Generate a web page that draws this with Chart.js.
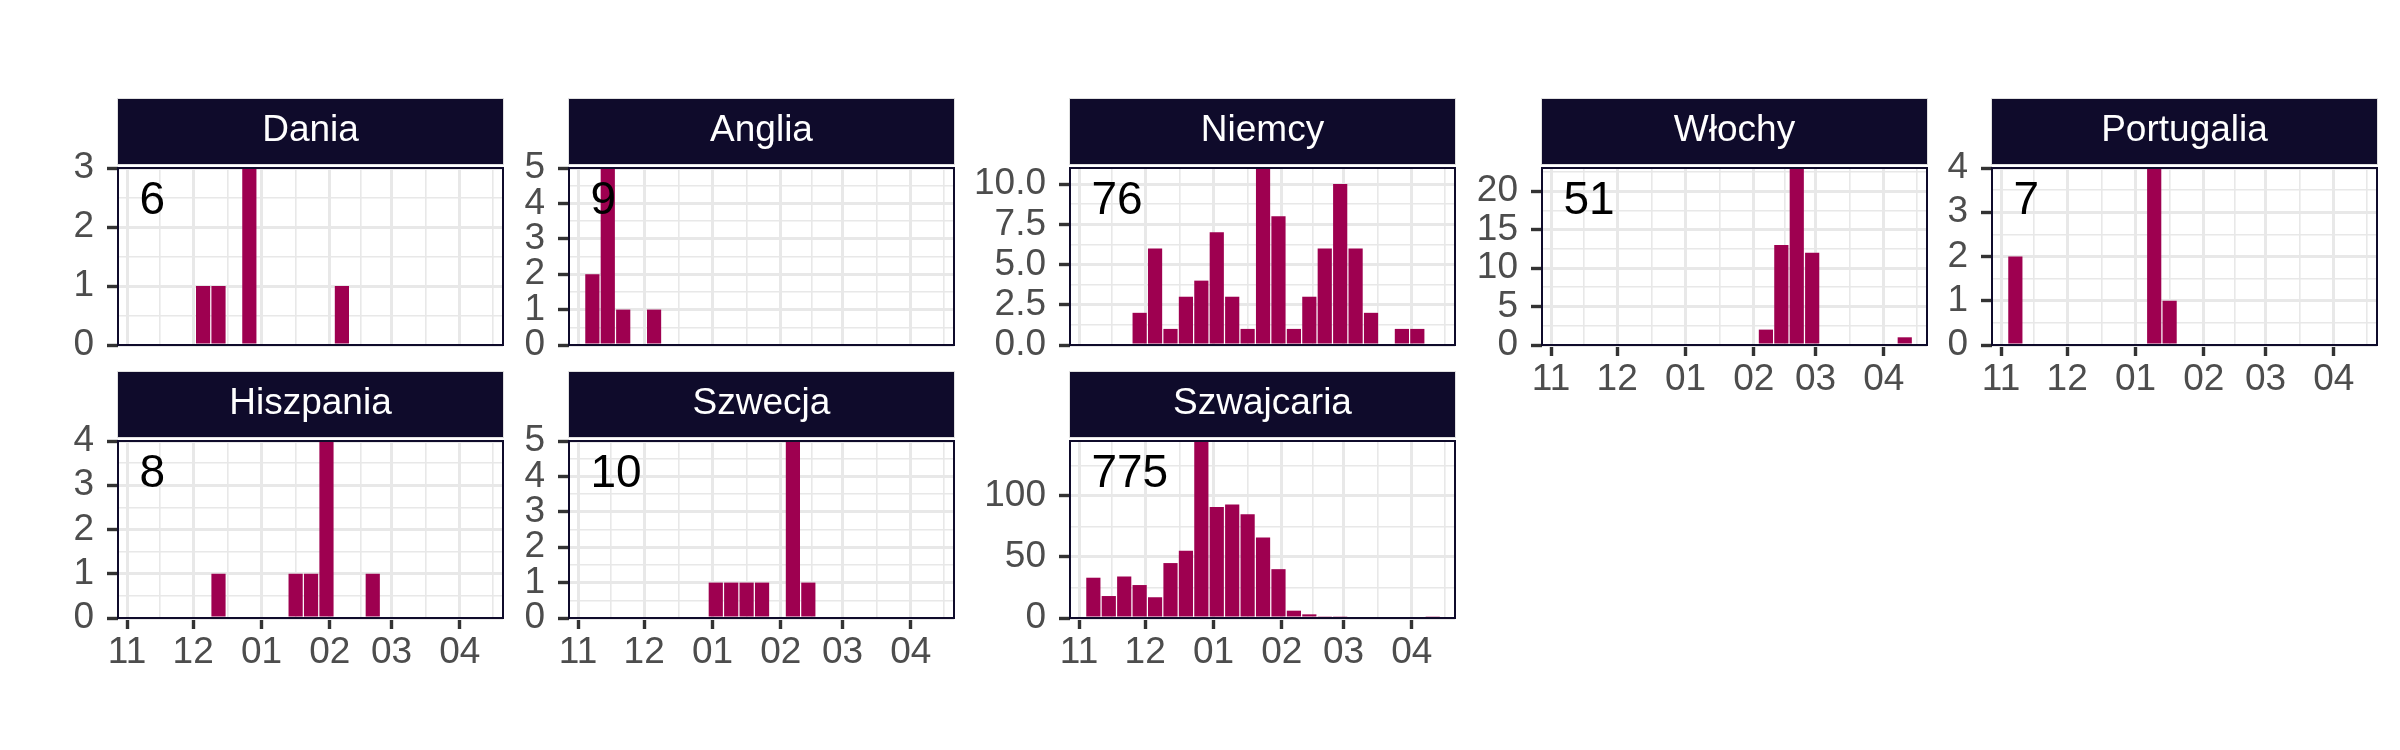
<!DOCTYPE html>
<html>
<head>
<meta charset="utf-8">
<script src="https://cdn.jsdelivr.net/npm/chart.js@4.4.1/dist/chart.umd.min.js"></script>
<style>
  html, body { margin: 0; padding: 0; background: #fff; }
  #wrap { position: relative; width: 2400px; height: 750px; overflow: hidden; background: #fff; }
  #wrap canvas { position: absolute; }
</style>
</head>
<body>
<div id="wrap"></div>
<script>
// weekly case counts per country (one bar = one week)
const countries = ['Dania', 'Anglia', 'Niemcy', 'Włochy', 'Portugalia', 'Hiszpania', 'Szwecja', 'Szwajcaria'];
const totals = [6, 9, 76, 51, 7, 8, 10, 775];

const weekStarts = [
  '2020-11-04', '2020-11-11', '2020-11-18', '2020-11-25', '2020-12-02', '2020-12-09',
  '2020-12-16', '2020-12-23', '2020-12-30', '2021-01-06', '2021-01-13', '2021-01-20',
  '2021-01-27', '2021-02-03', '2021-02-10', '2021-02-17', '2021-02-24', '2021-03-03',
  '2021-03-10', '2021-03-17', '2021-03-24', '2021-03-31', '2021-04-07'
];

const dania      = [0, 0, 0, 0, 1, 1, 0, 3, 0, 0, 0, 0, 0, 1, 0, 0, 0, 0, 0, 0, 0, 0, 0];
const anglia     = [2, 5, 1, 0, 1, 0, 0, 0, 0, 0, 0, 0, 0, 0, 0, 0, 0, 0, 0, 0, 0, 0, 0];
const niemcy     = [0, 0, 0, 2, 6, 1, 3, 4, 7, 3, 1, 11, 8, 1, 3, 6, 10, 6, 2, 0, 1, 1, 0];
const wlochy     = [0, 0, 0, 0, 0, 0, 0, 0, 0, 0, 0, 0, 0, 2, 13, 23, 12, 0, 0, 0, 0, 0, 1];
const portugalia = [2, 0, 0, 0, 0, 0, 0, 0, 0, 4, 1, 0, 0, 0, 0, 0, 0, 0, 0, 0, 0, 0, 0];
const hiszpania  = [0, 0, 0, 0, 0, 1, 0, 0, 0, 0, 1, 1, 4, 0, 0, 1, 0, 0, 0, 0, 0, 0, 0];
const szwecja    = [0, 0, 0, 0, 0, 0, 0, 0, 1, 1, 1, 1, 0, 5, 1, 0, 0, 0, 0, 0, 0, 0, 0];
const szwajcaria = [33, 18, 34, 27, 17, 45, 55, 145, 91, 93, 85, 66, 40, 6, 3, 1, 1, 0, 0, 0, 0, 0, 1];
const series = [dania, anglia, niemcy, wlochy, portugalia, hiszpania, szwecja, szwajcaria];

// axis settings
const yMax = [3, 5, 11, 23, 4, 4, 5, 145];
const yStep = [1, 1, 2.5, 5, 1, 1, 1, 50];
const yDecimals = [0, 0, 1, 0, 0, 0, 0, 0];
const monthStarts = ['2020-11-01', '2020-12-01', '2021-01-01', '2021-02-01', '2021-03-01', '2021-04-01', '2021-05-01'];
const monthLabels = ['11', '12', '01', '02', '03', '04', '05'];

// facet layout
const panelCol = [0, 1, 2, 3, 4, 0, 1, 2];
const panelRow = [0, 0, 0, 0, 0, 1, 1, 1];
const showXAxis = [false, false, false, true, true, true, true, true];
const colLeft = [118, 569, 1070, 1542, 1992];
const stripTop = [98, 371];
const panelW = 385, panelH = 177, stripH = 66, stripGap = 4;
const axisW = 110, axisH = 70, padRight = 8;

const barColor = '#9e0050';
const stripColor = '#0f0b2b';
const gridColor = '#e8e8e8';
const FONT = '"Liberation Sans", Arial, Helvetica, sans-serif';

Chart.defaults.font.family = FONT;

const day0 = Date.parse('2020-11-01');
const day = s => (Date.parse(s) - day0) / 86400000;
const xMin = -4.1, xMax = 170.6;

const xTicks = [];
monthStarts.forEach((m, i) => {
  xTicks.push({ value: day(m), major: true, name: monthLabels[i] });
  if (i < monthStarts.length - 1) {
    xTicks.push({ value: (day(m) + day(monthStarts[i + 1])) / 2, major: false, name: '' });
  }
});
const xTicksIn = xTicks.filter(t => t.value >= xMin && t.value <= xMax);

const gridWidth = c => (c.tick && c.tick.major ? 3 : 1.6);
const tickColor = c => (c.tick && c.tick.major ? '#333333' : 'rgba(0,0,0,0)');

const wrap = document.getElementById('wrap');

countries.forEach((name, i) => {
  const canvas = document.createElement('canvas');
  const w = axisW + panelW + padRight;
  const h = stripH + stripGap + panelH + axisH;
  canvas.width = w;
  canvas.height = h;
  canvas.style.left = (colLeft[panelCol[i]] - axisW) + 'px';
  canvas.style.top = stripTop[panelRow[i]] + 'px';
  canvas.style.width = w + 'px';
  canvas.style.height = h + 'px';
  wrap.appendChild(canvas);

  const yTicks = [];
  for (let k = 0; k * yStep[i] / 2 <= yMax[i] + 1e-9; k++) {
    yTicks.push({ value: k * yStep[i] / 2, major: k % 2 === 0 });
  }

  const stripPlugin = {
    id: 'strip',
    beforeDraw(chart) {
      const a = chart.chartArea, c = chart.ctx;
      c.save();
      c.fillStyle = stripColor;
      c.fillRect(a.left, 0, a.right - a.left, stripH);
      c.strokeStyle = '#e0e0e0';
      c.lineWidth = 1;
      c.strokeRect(a.left - 0.5, 0.5, a.right - a.left + 1, stripH);
      c.restore();
    }
  };
  const framePlugin = {
    id: 'frame',
    afterDraw(chart) {
      const a = chart.chartArea, c = chart.ctx;
      c.save();
      c.strokeStyle = stripColor;
      c.lineWidth = 2;
      c.strokeRect(a.left, a.top, a.right - a.left, a.bottom - a.top);
      c.restore();
    }
  };
  const totalPlugin = {
    id: 'total',
    afterDatasetsDraw(chart) {
      const c = chart.ctx;
      const x = chart.scales.x.getPixelForValue(5.6);
      const y = chart.scales.y.getPixelForValue(yMax[i] * 0.814);
      c.save();
      c.fillStyle = '#000';
      c.font = '46px ' + FONT;
      c.textAlign = 'left';
      c.textBaseline = 'middle';
      c.fillText(String(totals[i]), x, y);
      c.restore();
    }
  };

  new Chart(canvas, {
    type: 'bar',
    data: {
      datasets: [{
        data: weekStarts.map((ws, j) => ({ x: day(ws) + 3.5, y: series[i][j] })),
        backgroundColor: barColor,
        borderWidth: 0,
        barPercentage: 0.92,
        categoryPercentage: 1
      }]
    },
    options: {
      responsive: false,
      animation: false,
      devicePixelRatio: 1,
      layout: { padding: { left: 0, right: padRight, top: 0, bottom: 0 } },
      plugins: {
        legend: { display: false },
        tooltip: { enabled: false },
        title: {
          display: true,
          text: name,
          fullSize: false,
          color: '#ffffff',
          font: { size: 37, weight: 'normal', lineHeight: 1 },
          padding: { top: 14.5, bottom: stripH + stripGap - 14.5 - 37 }
        }
      },
      scales: {
        x: {
          type: 'linear',
          min: xMin,
          max: xMax,
          bounds: 'data',
          offset: false,
          border: { display: false },
          grid: {
            offset: false,
            color: gridColor,
            lineWidth: gridWidth,
            drawTicks: showXAxis[i],
            tickLength: 11,
            tickWidth: 3.4,
            tickColor: tickColor
          },
          ticks: {
            display: showXAxis[i],
            autoSkip: false,
            maxRotation: 0,
            padding: 5,
            color: '#4d4d4d',
            font: { size: 37, lineHeight: 1 },
            callback: (v, idx, ticks) => ticks[idx].name
          },
          afterBuildTicks: s => { s.ticks = xTicksIn.map(t => ({ ...t })); },
          afterFit: s => { s.height = axisH; }
        },
        y: {
          type: 'linear',
          min: 0,
          max: yMax[i],
          bounds: 'data',
          border: { display: false },
          grid: {
            color: gridColor,
            lineWidth: gridWidth,
            drawTicks: true,
            tickLength: 11,
            tickWidth: 3.4,
            tickColor: tickColor
          },
          ticks: {
            autoSkip: false,
            padding: 13,
            color: '#4d4d4d',
            font: { size: 37, lineHeight: 1 },
            callback: (v, idx, ticks) => (ticks[idx].major ? v.toFixed(yDecimals[i]) : '')
          },
          afterBuildTicks: s => { s.ticks = yTicks.map(t => ({ ...t })); },
          afterFit: s => { s.width = axisW; }
        }
      }
    },
    plugins: [stripPlugin, framePlugin, totalPlugin]
  });
});
</script>
</body>
</html>
